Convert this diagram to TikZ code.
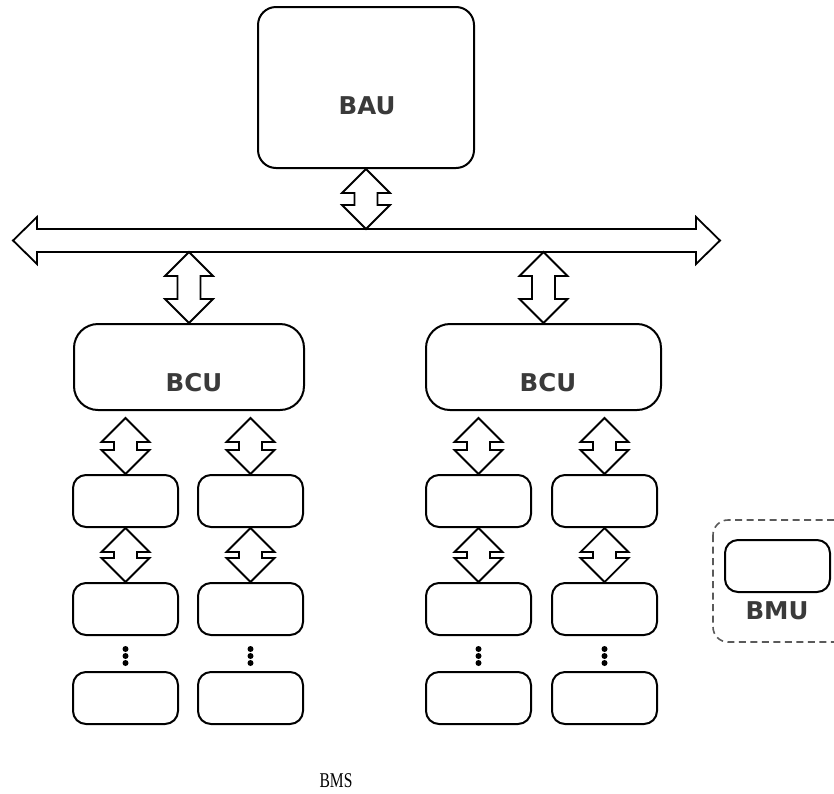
\documentclass[tikz,border=0pt]{standalone}
\usepackage{fontspec}
\newfontfamily\labelfont{DejaVu Sans}
\newfontfamily\captionfont{Liberation Serif}[FakeStretch=0.74]
\usetikzlibrary{calc}

\definecolor{labelgray}{HTML}{3A3A3A}
\definecolor{legendgray}{HTML}{5A5A5A}

\tikzset{
  bigbox/.style={draw=black, line width=2pt, rounded corners=18pt, fill=white,
    inner sep=0pt, minimum width=216pt, minimum height=161pt},
  bcubox/.style={draw=black, line width=2pt, rounded corners=24pt, fill=white,
    inner sep=0pt, minimum height=86pt},
  cellbox/.style={draw=black, line width=2pt, rounded corners=13pt, fill=white,
    inner sep=0pt, minimum width=105pt, minimum height=52pt},
  unitlabel/.style={font=\labelfont\bfseries\fontsize{24.5}{29}\selectfont,
    text=labelgray, inner sep=0pt},
  linkarrow/.style={draw=black, line width=1.8pt, fill=white, line join=miter},
  keyframe/.style={draw=legendgray, line width=1.6pt, rounded corners=15pt,
    dash pattern=on 7pt off 4.5pt},
  dotmark/.style={fill=black},
}

% vertical double arrow between two points: #1 upper tip, #2 lower tip
\newcommand\dblv[2]{%
  \draw[linkarrow] let \p1=(#1), \p2=(#2) in
    (\x1,\y1) -- (\x1+24pt,\y1-24pt) -- (\x1+11.5pt,\y1-24pt)
    -- (\x1+11.5pt,\y2+24pt) -- (\x1+24pt,\y2+24pt) -- (\x1,\y2)
    -- (\x1-24pt,\y2+24pt) -- (\x1-11.5pt,\y2+24pt)
    -- (\x1-11.5pt,\y1-24pt) -- (\x1-24pt,\y1-24pt) -- cycle;}

% horizontal double arrow between two points: #1 left tip, #2 right tip
\newcommand\dblh[2]{%
  \draw[linkarrow] let \p1=(#1), \p2=(#2) in
    (\x1,\y1) -- (\x1+24pt,\y1+23.5pt) -- (\x1+24pt,\y1+11.5pt)
    -- (\x2-24pt,\y1+11.5pt) -- (\x2-24pt,\y1+23.5pt) -- (\x2,\y1)
    -- (\x2-24pt,\y1-23.5pt) -- (\x2-24pt,\y1-11.5pt)
    -- (\x1+24pt,\y1-11.5pt) -- (\x1+24pt,\y1-23.5pt) -- cycle;}

\begin{document}
\begin{tikzpicture}[x=1pt, y=-1pt]
  \useasboundingbox (0,0) rectangle (834,793);
  \clip (0,0) rectangle (834,793);

  % battery array unit
  \node[bigbox] (bau) at (366,87.5) {};
  \node[unitlabel] (baut) at (367,106) {BAU};

  % communication bus
  \coordinate (busW) at (13,240.5);
  \coordinate (busE) at (720,240.5);
  \dblh{busW}{busE}
  \dblv{bau.south}{$(bau.south |- busW)+(0,11.5pt)$}

  % battery cluster units
  \node[bcubox, minimum width=230pt] (bcuL) at (189,367) {};
  \node[unitlabel] (bcuLt) at (194,383) {BCU};
  \node[bcubox, minimum width=235pt] (bcuR) at (543.5,367) {};
  \node[unitlabel] (bcuRt) at (548,383) {BCU};
  \dblv{$(bcuL.north |- busW)+(0,-11.5pt)$}{bcuL.north}
  \dblv{$(bcuR.north |- busW)+(0,-11.5pt)$}{bcuR.north}

  % battery module units, one column per string
  \foreach \col/\cx/\owner in {a/125.5/bcuL, b/250.5/bcuL, c/478.5/bcuR, d/604.5/bcuR} {
    \node[cellbox] (\col1) at (\cx,501) {};
    \node[cellbox] (\col2) at (\cx,609) {};
    \node[cellbox] (\col3) at (\cx,698) {};
    \dblv{$(\owner.south -| \col1.north)+(0,-7pt)$}{\col1.north}
    \dblv{\col1.south}{\col2.north}
    \foreach \dy in {649,656,663}
      \fill[dotmark] (\cx,\dy) circle (3pt);
  }

  % legend
  \draw[keyframe] (713,520) rectangle (870,642);
  \node[cellbox] (key) at (777.5,566) {};
  \node[unitlabel] (keyt) at (777,611) {BMU};

  % caption
  \node[font=\captionfont\fontsize{21}{23}\selectfont, inner sep=0pt] (cap) at (336,781) {BMS};
\end{tikzpicture}
\end{document}
